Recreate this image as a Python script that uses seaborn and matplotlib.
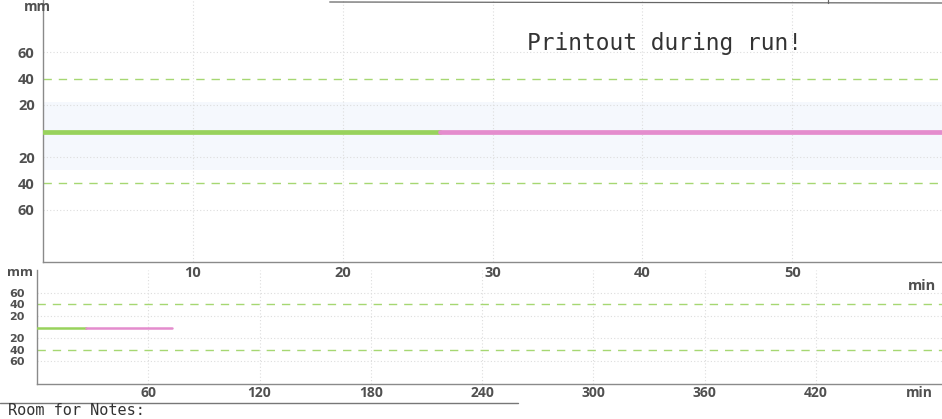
import matplotlib
matplotlib.use("Agg")
import matplotlib.pyplot as plt
import seaborn as sns
import pandas as pd
from matplotlib.lines import Line2D

# ---- data ----
green_t = [0, 5, 10, 15, 20, 26.5]
green_v = [-1, -1, -1, -1, -1, -1]
pink_t = [26.5, 35, 45, 55, 65, 73]
pink_v = [-1, -1, -1, -1, -1, -1]

top_xticks = [10, 20, 30, 40, 50]
bot_xticks = [60, 120, 180, 240, 300, 360, 420]
y_ticks = [60, 40, 20, -20, -40, -60]
y_labels = ["60", "40", "20", "20", "40", "60"]
limit_lines = [40, -40]
minor_lines = [20, 60, -20, -60]

title_text = "Printout during run!"
notes_text = "Room for Notes:"

df = pd.concat([
    pd.DataFrame({"t": green_t, "v": green_v, "phase": "A"}),
    pd.DataFrame({"t": pink_t, "v": pink_v, "phase": "B"}),
])
palette = {"A": "#98d25c", "B": "#e48ccd"}

sns.set_style("white")
plt.rcParams["font.family"] = ["Open Sans", "DejaVu Sans"]

W, H = 942, 419
fig = plt.figure(figsize=(W / 100, H / 100), dpi=100)

ax1 = fig.add_axes([43 / W, (H - 262) / H, (W - 43) / W, 262 / H])
ax2 = fig.add_axes([37 / W, (H - 384) / H, (W - 37) / W, (384 - 270) / H])

tick_col = "#505050"
spine_col = "#8a8a8a"

def style(ax, xt, xmax, lw, yfs, ypad, xfs, xpad):
    ax.set_xlim(0, xmax)
    ax.set_ylim(-100, 100)
    for v in minor_lines:
        ax.axhline(v, color="#dddddd", lw=0.8, ls=(0, (1, 2)), zorder=0)
    for v in xt:
        ax.axvline(v, color="#dddddd", lw=0.8, ls=(0, (1, 2)), zorder=0)
    for v in limit_lines:
        ax.axhline(v, color="#a6d772", lw=1.0, ls=(0, (6, 5)), zorder=1)
    sns.lineplot(data=df, x="t", y="v", hue="phase", palette=palette,
                 ax=ax, legend=False, linewidth=lw, zorder=3)
    ax.set_xticks(xt)
    ax.set_xticklabels([str(v) for v in xt])
    ax.set_yticks(y_ticks)
    ax.set_yticklabels(y_labels)
    ax.tick_params(axis="x", length=0, pad=xpad, labelsize=xfs, labelcolor=tick_col)
    ax.tick_params(axis="y", length=0, pad=ypad, labelsize=yfs, labelcolor=tick_col)
    for lab in ax.get_xticklabels() + ax.get_yticklabels():
        lab.set_fontweight("bold")
    ax.set_xlabel("")
    ax.set_ylabel("")
    for s in ["top", "right"]:
        ax.spines[s].set_visible(False)
    for s in ["left", "bottom"]:
        ax.spines[s].set_color(spine_col)
        ax.spines[s].set_linewidth(1.0)
    ax.set_facecolor("none")

# very faint blue band in the main chart
ax1.axhspan(-30, 22, xmin=0.0, xmax=1.0, color="#f5f8fd", zorder=0, lw=0)

style(ax1, top_xticks, 60, 3.4, 10.5, 6, 10.5, 3)
style(ax2, bot_xticks, 488, 1.8, 8, 9, 10, 1.5)
for lab in ax2.get_yticklabels():
    lab.set_family("DejaVu Sans")

ax1.text(32.3, 67, title_text, family="DejaVu Sans Mono", fontsize=16.5,
         color="#333333", va="center", ha="left")

ax1.annotate("min", xy=(0.978, 0), xycoords="axes fraction", xytext=(0, -12),
             textcoords="offset points", ha="center", va="top", fontsize=10.5,
             color=tick_col, fontweight="bold")
ax2.annotate("min", xy=(0.975, 0), xycoords="axes fraction", xytext=(0, -1.5),
             textcoords="offset points", ha="center", va="top", fontsize=10,
             color=tick_col, fontweight="bold")

fig.text(37 / W, 1.0, "mm", ha="center", va="top", fontsize=10,
         color=tick_col, fontweight="bold")
fig.text(20 / W, 1 - 272 / H, "mm", ha="center", va="center", fontsize=9.5,
         color=tick_col, fontweight="bold")

# header table fragment and notes separator
fig.add_artist(Line2D([0.35, 1.0], [1 - 2 / H, 1 - 3 / H], color="#666666", lw=0.9))
fig.add_artist(Line2D([828 / W, 828 / W], [1.0, 1 - 3 / H], color="#666666", lw=0.9))
fig.add_artist(Line2D([0.0, 0.55], [1 - 403 / H, 1 - 403 / H], color="#777777", lw=1.0))

fig.text(8 / W, 1 - 418 / H, notes_text, family="DejaVu Sans Mono", fontsize=11,
         color="#333333", ha="left", va="bottom")

fig.savefig("out.png", dpi=100, facecolor="white")
